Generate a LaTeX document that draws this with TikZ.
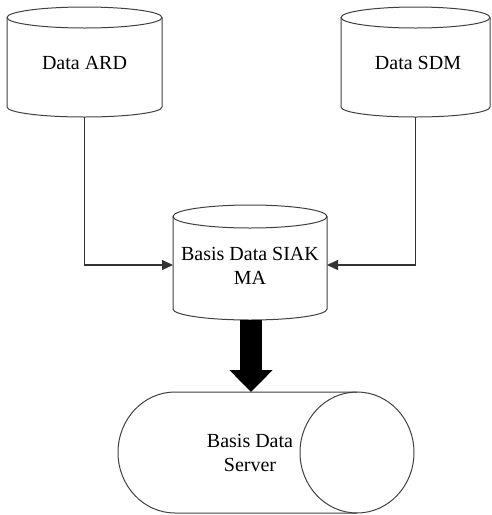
\documentclass[tikz,border=0pt]{standalone}
\usepackage{fontspec}
\setmainfont{Liberation Serif}
\usetikzlibrary{arrows.meta}
\tikzset{
  edge/.style={draw=black!75, line width=1pt},
  lbl/.style={font=\fontsize{20}{24}\selectfont, align=center, inner sep=0pt},
  conn/.style={draw=black!80, line width=1.1pt, -{Triangle[length=11pt,width=10pt]}},
  fat/.style={draw=black, line width=22pt, -{Triangle[length=22pt,width=42pt]}}
}
\begin{document}
\begin{tikzpicture}[x=1pt,y=1pt]
\useasboundingbox (0,0) rectangle (492,-515);
% Data ARD cylinder
\draw[edge] (84.5,-17.5) ellipse[x radius=77.5,y radius=10.5];
\draw[edge] (7,-17.5) -- (7,-107) arc[start angle=180,end angle=360,x radius=77.5,y radius=10] -- (162,-17.5);
\node[lbl] (ard) at (84.5,-63) {Data ARD};
\coordinate (ardS) at (84.5,-117);
% Data SDM cylinder
\draw[edge] (415.5,-17.5) ellipse[x radius=74.5,y radius=10.5];
\draw[edge] (341,-17.5) -- (341,-107) arc[start angle=180,end angle=360,x radius=74.5,y radius=10] -- (490,-17.5);
\node[lbl] (sdm) at (418,-63) {Data SDM};
\coordinate (sdmS) at (415.5,-117);
% SIAK cylinder
\draw[edge] (250,-216.5) ellipse[x radius=77,y radius=11.5];
\draw[edge] (173,-216.5) -- (173,-309) arc[start angle=180,end angle=360,x radius=77,y radius=11] -- (327,-216.5);
\node[lbl] (siak) at (250,-266) {Basis Data SIAK\\MA};
\coordinate (siakW) at (173,-265);
\coordinate (siakE) at (327,-265);
\coordinate (siakS) at (251,-320);
% Server horizontal cylinder
\draw[edge] (357,-392) -- (175,-392) arc[start angle=90,end angle=270,x radius=57,y radius=60.5] -- (357,-513);
\draw[edge] (357,-452.5) ellipse[x radius=57,y radius=60.5];
\node[lbl] (server) at (250,-453) {Basis Data\\Server};
\coordinate (serverN) at (251,-392);
% connectors
\draw[conn] (ardS) |- (siakW);
\draw[conn] (sdmS) |- (siakE);
\draw[fat] (siakS) -- (serverN);
\end{tikzpicture}
\end{document}
